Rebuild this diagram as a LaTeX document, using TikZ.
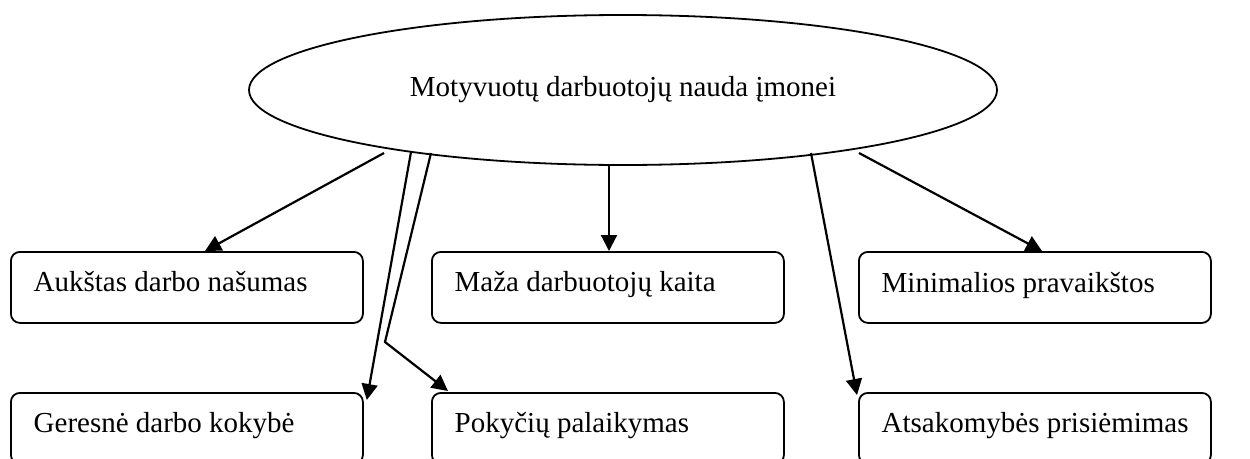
\documentclass[tikz,border=0pt]{standalone}
\usepackage{fontspec}
\setmainfont{Liberation Serif}
\usetikzlibrary{shapes.geometric,arrows.meta,calc}

\tikzset{
  goal/.style={ellipse, draw, line width=1.8pt, minimum width=748pt,
    minimum height=150pt, inner sep=0pt, font=\fontsize{29}{34}\selectfont},
  benefit/.style={draw, line width=1.8pt, rounded corners=9pt, minimum width=352pt,
    minimum height=71pt, inner sep=0pt, anchor=north west},
  lbl/.style={anchor=base west, inner sep=0pt, font=\fontsize{29}{34}\selectfont},
  link/.style={line width=2.2pt, -{Triangle[length=16pt,width=16pt]}},
}

\begin{document}
\begin{tikzpicture}[x=1pt,y=-1pt]
  \useasboundingbox (0,0) rectangle (1250,458);
  \clip (0,0) rectangle (1250,458);

  % central idea
  \node[goal] (e) at (623,90) {Motyvuotų darbuotojų nauda įmonei};

  % first row of benefits
  \node[benefit] (b1) at (10,251) {};
  \node[benefit] (b2) at (431,251) {};
  \node[benefit] (b3) at (858,251) {};
  % second row of benefits
  \node[benefit] (b4) at (10,392) {};
  \node[benefit] (b5) at (431,392) {};
  \node[benefit] (b6) at (858,392) {};

  \node[lbl] (t1) at ($(b1.north west)+(23.5,40)$) {Aukštas darbo našumas};
  \node[lbl] (t2) at ($(b2.north west)+(23.5,40)$) {Maža darbuotojų kaita};
  \node[lbl] (t3) at ($(b3.north west)+(23.5,41)$) {Minimalios pravaikštos};
  \node[lbl] (t4) at ($(b4.north west)+(23.5,40)$) {Geresnė darbo kokybė};
  \node[lbl] (t5) at ($(b5.north west)+(23.5,40)$) {Pokyčių palaikymas};
  \node[lbl] (t6) at ($(b6.north west)+(23.5,40)$) {Atsakomybės prisiėmimas};

  % connector start points under the ellipse
  \coordinate (s1) at ($(e.center)+(-239,63)$);
  \coordinate (s4) at ($(e.center)+(-212,62)$);
  \coordinate (s5) at ($(e.center)+(-192,63)$);
  \coordinate (s2) at ($(e.center)+(-14,75)$);
  \coordinate (s6) at ($(e.center)+(188,63)$);
  \coordinate (s3) at ($(e.center)+(236,63)$);
  \coordinate (k5) at (385,342);

  \draw[link] (s1) -- ($(b1.north west)+(195,0)$);
  \draw[link] (s2) -- ($(b2.north west)+(178,0)$);
  \draw[link] (s3) -- ($(b3.north west)+(184,0)$);
  \draw[link] (s4) -- ($(b4.north east)+(3,8)$);
  \draw[link] (s5) -- (k5) -- ($(b5.north west)+(17,-1)$);
  \draw[link] (s6) -- ($(b6.north west)+(-1,3)$);
\end{tikzpicture}
\end{document}
